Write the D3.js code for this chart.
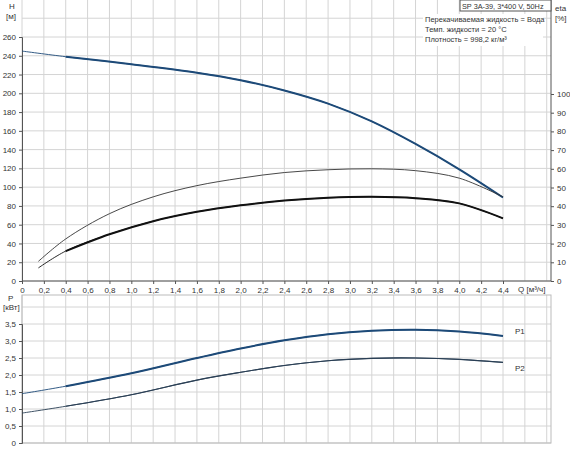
<!DOCTYPE html><html><head><meta charset="utf-8"><script src="https://cdn.jsdelivr.net/npm/d3@7"></script>
<style>body{margin:0;background:#fff}text{font-family:Arial,"Liberation Sans",sans-serif;font-size:8px;fill:#333}</style></head><body>
<svg id="c" width="570" height="450"></svg>
<script>
const qTicks=d3.range(0,4.41,0.2);
const hTicks=d3.range(0,261,20);
const etaTicks=d3.range(0,101,10);
const pTicks=[0,0.5,1,1.5,2,2.5,3,3.5];
const hQ=[0,0.4,1,1.6,2,2.4,2.8,3.2,3.6,4,4.4];
const hV=[245,239,231,222,214,203,189,170,146,119,89];
const etaQ=[0.15,0.4,0.8,1.2,1.6,2,2.4,2.8,3.2,3.6,4,4.4];
const eta1=[10.5,22.5,36,45,51,55,58,59.5,60,59,55,45];
const eta2=[7,16,25,32,37,40.5,43,44.5,45,44.3,41.5,33.5];
const pQ=[0,0.4,1,1.6,2,2.4,2.8,3.2,3.6,4,4.4];
const p1=[1.45,1.67,2.05,2.5,2.78,3.02,3.2,3.3,3.33,3.28,3.15];
const p2=[0.88,1.08,1.42,1.85,2.08,2.28,2.42,2.49,2.5,2.46,2.37];

const svg=d3.select("#c");
const L=22,R=551;
const x=d3.scaleLinear().domain([0,4.4]).range([L,503]);
const xMax=x.invert(R);
const yH=d3.scaleLinear().domain([0,260]).range([281,37]);
const yE=d3.scaleLinear().domain([0,100]).range([281,94]);
const yP=d3.scaleLinear().domain([0,3.5]).range([443,324]);
const grid="#d4d4d4";
const gridX=d3.range(0,xMax,0.2);
const g1=svg.append("g");
gridX.forEach(q=>g1.append("line").attr("x1",x(q)).attr("x2",x(q)).attr("y1",0).attr("y2",281).attr("stroke",grid));
d3.range(0,281,20).forEach(h=>g1.append("line").attr("x1",L).attr("x2",R).attr("y1",yH(h)).attr("y2",yH(h)).attr("stroke",grid));
const g2=svg.append("g");
gridX.forEach(q=>g2.append("line").attr("x1",x(q)).attr("x2",x(q)).attr("y1",295).attr("y2",443).attr("stroke",grid));
d3.range(0,4.3,0.5).forEach(p=>g2.append("line").attr("x1",L).attr("x2",R).attr("y1",yP(p)).attr("y2",yP(p)).attr("stroke",grid));
svg.append("rect").attr("x",L).attr("y",295).attr("width",R-L).attr("height",148).attr("fill","none").attr("stroke","#bbb");
const fmt=d=>d3.format(".1f")(d).replace(".",",");
svg.append("g").attr("transform",`translate(${L},0)`).call(d3.axisLeft(yH).tickValues(hTicks).tickSize(3)).call(a=>{a.select(".domain").attr("stroke","#555")});
svg.append("g").attr("transform",`translate(${R},0)`).call(d3.axisRight(yE).tickValues(etaTicks).tickSize(3)).call(a=>{a.select(".domain").remove()});
svg.append("line").attr("x1",R).attr("x2",R).attr("y1",0).attr("y2",281).attr("stroke","#555");
svg.append("g").attr("transform","translate(0,281)").call(d3.axisBottom(x).tickValues(qTicks).tickSize(3).tickFormat(d=>d===0?"0":fmt(d))).call(a=>{a.select(".domain").attr("d",`M${L},0H${R}`).attr("stroke","#555")});
svg.append("g").attr("transform",`translate(${L},0)`).call(d3.axisLeft(yP).tickValues(pTicks).tickSize(3).tickFormat(d=>d===0?"0":fmt(d))).call(a=>a.select(".domain").attr("stroke","#555"));
svg.selectAll(".tick text").style("font-size","8px").attr("fill","#333");
svg.selectAll(".tick line").attr("stroke","#555");
svg.append("text").attr("x",9).attr("y",9).text("H");
svg.append("text").attr("x",6).attr("y",19).text("[м]");
svg.append("text").attr("x",555).attr("y",11).text("eta");
svg.append("text").attr("x",555).attr("y",21).text("[%]");
svg.append("text").attr("x",518).attr("y",292).text("Q [м³/ч]");
svg.append("text").attr("x",8).attr("y",301).text("P");
svg.append("text").attr("x",3).attr("y",310).text("[кВт]");
svg.append("rect").attr("x",460).attr("y",0).attr("width",91).attr("height",11).attr("fill","#fff").attr("stroke","#555");
svg.append("text").attr("x",462).attr("y",8.5).style("font-size","7.3px").text("SP 3A-39, 3*400 V, 50Hz");
svg.append("rect").attr("x",423).attr("y",14).attr("width",120).attr("height",32).attr("fill","#fff");
["Перекачиваемая жидкость = Вода","Темп. жидкости = 20 °C","Плотность = 998,2 кг/м³"].forEach((t,i)=>svg.append("text").attr("x",425).attr("y",22+i*10).style("font-size","7.5px").text(t));
const draw=(qs,vs,ys,col,w,from)=>{
 const ln=d3.line().curve(d3.curveCatmullRom).x(d=>x(d[0])).y(d=>ys(d[1]));
 const pts=qs.map((q,i)=>[q,vs[i]]);
 svg.append("path").attr("d",ln(pts)).attr("fill","none").attr("stroke",col).attr("stroke-width",0.9);
 if(w>1){svg.append("path").attr("d",ln(pts.filter(p=>p[0]>=from))).attr("fill","none").attr("stroke",col).attr("stroke-width",w);}
};
draw(hQ,hV,yH,"#1d4a78",2,0.4);
draw(etaQ,eta1,yE,"#333",1,0.4);
draw(etaQ,eta2,yE,"#111",2,0.4);
draw(pQ,p1,yP,"#1d4a78",2,0.4);
draw(pQ,p2,yP,"#2a3f55",1.1,0.4);
svg.append("text").attr("x",515).attr("y",334).text("P1");
svg.append("text").attr("x",515).attr("y",371).text("P2");
</script></body></html>
